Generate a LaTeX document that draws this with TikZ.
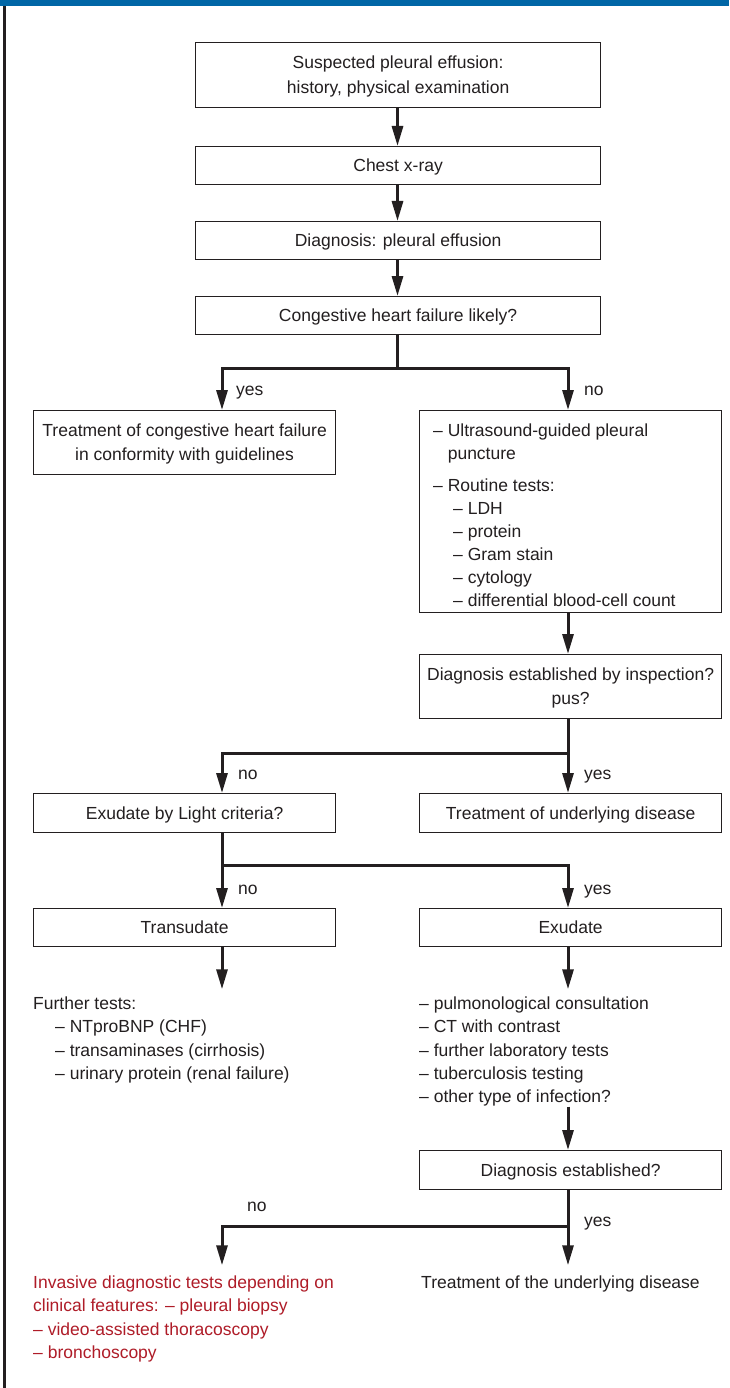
\documentclass[tikz,border=0pt]{standalone}
\usepackage{fontspec}
\setmainfont{Liberation Sans}
\usetikzlibrary{arrows.meta}
\definecolor{ink}{RGB}{35,31,32}
\definecolor{barblue}{RGB}{0,102,166}
\definecolor{invred}{RGB}{175,28,40}
\newcommand\lstrut{\rule[-5.75pt]{0pt}{23.5pt}}
\begin{document}
\begin{tikzpicture}[x=1pt,y=-1pt,
  every node/.style={font=\fontsize{17.5}{23.4}\selectfont, text=ink},
  box/.style={draw=ink, line width=1.2pt, inner sep=0pt, align=center, anchor=north west},
  conn/.style={draw=ink, line width=3pt},
  arr/.style={conn, -{Triangle[length=20pt,width=11pt]}},
  lbl/.style={anchor=west, inner sep=0pt},
  txt/.style={anchor=north west, inner sep=0pt, align=left},
]
\useasboundingbox (0,0) rectangle (729,1388);
\fill[white] (0,0) rectangle (729,1388);
\fill[barblue] (0,0) rectangle (729,6.5);
\draw[ink, line width=2.5pt] (4.5,6.5) -- (4.5,1388);

\coordinate (xl) at (222,0);
\coordinate (xr) at (568,0);
\coordinate (xm) at (397.5,0);

% top column
\node[box, minimum width=405pt, minimum height=65pt] (b1) at (195,42)
  {\lstrut Suspected pleural effusion:\\\lstrut history, physical examination};
\node[box, minimum width=405pt, minimum height=38pt] (b2) at (195,146) {\lstrut Chest x-ray};
\node[box, minimum width=405pt, minimum height=38pt] (b3) at (195,221) {\lstrut Diagnosis: pleural effusion};
\node[box, minimum width=405pt, minimum height=38pt] (b4) at (195,296) {\lstrut Congestive heart failure likely?};

% second row
\node[box, minimum width=302pt, minimum height=64pt] (b5) at (33,410)
  {\lstrut Treatment of congestive heart failure\\\lstrut in conformity with guidelines};
\node[box, minimum width=302pt, minimum height=202pt] (b6) at (419,410) {};
\node[txt, font=\fontsize{17.5}{23}\selectfont] (b6t) at (433,418.25)
  {\lstrut – Ultrasound-guided pleural\\
   \phantom{– }puncture\\[9pt]
   – Routine tests:\\
   \hspace*{20pt}– LDH\\
   \hspace*{20pt}– protein\\
   \hspace*{20pt}– Gram stain\\
   \hspace*{20pt}– cytology\\
   \hspace*{20pt}– differential blood-cell count};

\node[box, minimum width=302pt, minimum height=64pt] (b7) at (419,654)
  {\lstrut Diagnosis established by inspection?\\\lstrut pus?};

\node[box, minimum width=302pt, minimum height=39pt] (b8) at (33,793) {\lstrut Exudate by Light criteria?};
\node[box, minimum width=302pt, minimum height=39pt] (b9) at (419,793) {\lstrut Treatment of underlying disease};

\node[box, minimum width=302pt, minimum height=38pt] (b10) at (33,908) {\lstrut Transudate};
\node[box, minimum width=302pt, minimum height=38pt] (b11) at (419,908) {\lstrut Exudate};

\node[txt] (ft) at (33,991.25)
  {\lstrut Further tests:\\
   \hspace*{22pt}– NTproBNP (CHF)\\
   \hspace*{22pt}– transaminases (cirrhosis)\\
   \hspace*{22pt}– urinary protein (renal failure)};
\node[txt] (rt) at (419,991.25)
  {\lstrut – pulmonological consultation\\
   – CT with contrast\\
   – further laboratory tests\\
   – tuberculosis testing\\
   – other type of infection?};

\node[box, minimum width=302pt, minimum height=39pt] (b12) at (419,1150) {\lstrut Diagnosis established?};

\node[txt, text=invred] (rd) at (33,1270.25)
  {\lstrut Invasive diagnostic tests depending on\\
   clinical features: – pleural biopsy\\
   – video-assisted thoracoscopy\\
   – bronchoscopy};
\node[txt] (tr) at (421,1270.25) {\lstrut Treatment of the underlying disease};

% labels
\node[lbl] (l1) at (236,389) {\lstrut yes};
\node[lbl] (l2) at (584,389) {\lstrut no};
\node[lbl] (l3) at (238,773) {\lstrut no};
\node[lbl] (l4) at (584,773) {\lstrut yes};
\node[lbl] (l5) at (238,888) {\lstrut no};
\node[lbl] (l6) at (584,888) {\lstrut yes};
\node[lbl] (l7) at (247,1205) {\lstrut no};
\node[lbl] (l8) at (584,1220) {\lstrut yes};

% connectors
\draw[arr] (b1.south -| xm) -- (b2.north -| xm);
\draw[arr] (b2.south -| xm) -- (b3.north -| xm);
\draw[arr] (b3.south -| xm) -- (b4.north -| xm);

\coordinate (j1) at (397.5,368);
\draw[conn] (b4.south -| xm) -- (j1);
\draw[arr] (j1) -| (b5.north -| xl);
\draw[arr] (j1) -| (b6.north -| xr);

\draw[arr] (b6.south -| xr) -- (b7.north -| xr);

\coordinate (j2) at (568,753);
\draw[arr] (b7.south -| xr) -- (b9.north -| xr);
\draw[arr] (j2) -| (b8.north -| xl);

\coordinate (j3) at (222,865);
\draw[arr] (b8.south -| xl) -- (b10.north -| xl);
\draw[arr] (j3) -| (b11.north -| xr);

\draw[arr] (b10.south -| xl) -- ([yshift=2pt]ft.north -| xl);
\draw[arr] (b11.south -| xr) -- ([yshift=2pt]rt.north -| xr);
\draw[arr] (rt.south -| xr) -- (b12.north -| xr);

\coordinate (j4) at (568,1226);
\draw[arr] (b12.south -| xr) -- ([yshift=5pt]tr.north -| xr);
\draw[arr] (j4) -| ([yshift=5pt]rd.north -| xl);
\end{tikzpicture}
\end{document}
